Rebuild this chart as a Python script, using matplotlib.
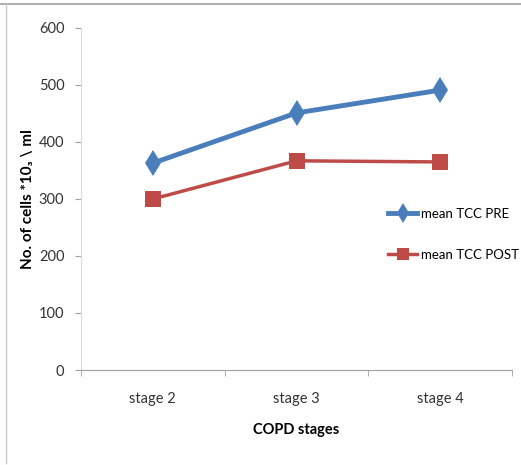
import matplotlib
matplotlib.use("Agg")
import matplotlib.pyplot as plt
from matplotlib.lines import Line2D

stages = ["stage 2", "stage 3", "stage 4"]
tcc_pre = [363, 451, 491]
tcc_post = [300, 367, 365]
yticks = [0, 100, 200, 300, 400, 500, 600]

BLUE = "#4A7EBB"
RED = "#BE4B48"
GREY = "#A0A0A0"

plt.rcParams["font.family"] = ["Lato", "DejaVu Sans"]

fig = plt.figure(figsize=(5.21, 4.65), dpi=100)
ax = fig.add_axes([0.1555, 0.2043, 0.8272, 0.7355])

x = range(len(stages))
ax.plot(x, tcc_pre, color=BLUE, lw=3.5, marker="d", ms=13, mew=0, label="mean TCC PRE")
ax.plot(x, tcc_post, color=RED, lw=2.5, marker="s", ms=11, mew=0, label="mean TCC POST")

ax.set_xlim(-0.5, 2.5)
ax.set_ylim(0, 600)
ax.set_yticks(yticks)
ax.set_xticks(list(x))
ax.set_xticklabels(stages, fontsize=10.5, color="#333333")
ax.set_xticks([-0.5, 0.5, 1.5, 2.5], minor=True)
ax.tick_params(axis="x", which="major", length=0, pad=16)
ax.tick_params(axis="x", which="minor", length=4, color=GREY)
ax.tick_params(axis="y", length=4, color=GREY, labelsize=10.5, labelcolor="#333333", pad=8)

for s in ("top", "right"):
    ax.spines[s].set_visible(False)
ax.spines["left"].set_color("#D9D9D9")
ax.spines["bottom"].set_color(GREY)

ax.set_xlabel("COPD stages", fontsize=10.5, fontweight="bold", labelpad=12)
ax.set_ylabel("No. of cells *10\u2083 \\ ml", fontsize=11, fontweight="bold", labelpad=3)

fig.legend(*ax.get_legend_handles_labels(), loc="upper left",
           bbox_to_anchor=(388 / 521, 1 - 208 / 465), bbox_transform=fig.transFigure,
           frameon=False, fontsize=9.5, borderpad=0, borderaxespad=0,
           handlelength=2.2, handletextpad=0.3, labelspacing=2.2, markerscale=0.75)

# outer frame lines along the top and left edges
fig.add_artist(Line2D([0, 1], [1 - 4 / 465] * 2, color=GREY, lw=1.2, transform=fig.transFigure))
fig.add_artist(Line2D([6 / 521] * 2, [1 - 4 / 465, 0.005], color="#C8C8C8", lw=1.0, transform=fig.transFigure))

fig.savefig("out.png", dpi=100)
